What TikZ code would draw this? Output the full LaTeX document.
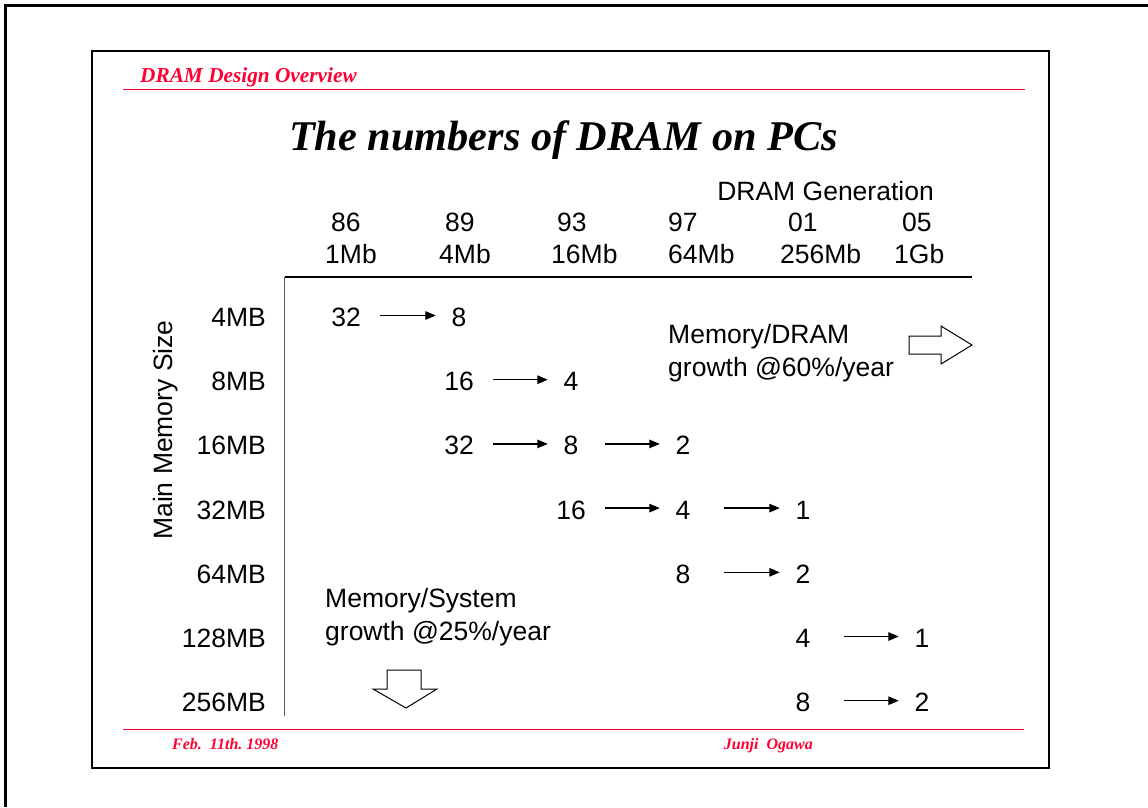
\documentclass[tikz,border=0pt]{standalone}
\usepackage{fontspec}
\setmainfont{Liberation Serif}
\setsansfont{Liberation Sans}
\usetikzlibrary{arrows.meta}
\definecolor{slidered}{RGB}{255,0,51}
\begin{document}
\begin{tikzpicture}[x=1pt,y=-1pt,
  frame/.style={line width=2.5pt,black},
  rule/.style={line width=1.5pt,slidered},
  body/.style={font=\fontsize{26.5}{33}\selectfont\sffamily,inner sep=0pt},
  num/.style={body,anchor=base,minimum width=40pt,text height=22pt,text depth=0pt},
  rowlab/.style={body,anchor=base east},
  hdr/.style={body,anchor=base west},
  numarrow/.style={line width=1.3pt,-{Triangle[length=10.5pt,width=8.5pt]},shorten >=3pt,shorten <=14pt},
  widegap/.style={shorten <=21pt},
  blockarrow/.style={draw,line width=1pt,fill=white,line join=miter},
  redtext/.style={text=slidered,inner sep=0pt,font=\fontsize{#1}{#1}\selectfont\rmfamily\bfseries\itshape}
]
\useasboundingbox (0,0) rectangle (1148,807);
\fill[white] (0,0) rectangle (1148,807);

% page frames
\draw[frame] (5.3,807) -- (5.3,5.5) -- (1148,5.5);
\draw[frame] (92,51.2) rectangle (1049,768);

% header and footer
\node[redtext=21.3,anchor=base west] (header) at (140,82) {DRAM Design Overview};
\draw[rule] (123,89.3) -- (1025,89.3);
\draw[rule] (123,729.3) -- (1024,729.3);
\node[redtext=16,anchor=base west] (date) at (172,749) {Feb.\ \ 11th.\ 1998};
\node[redtext=16,anchor=base east] (author) at (813,749) {Junji\ \ Ogawa};

% title
\node[inner sep=0pt,anchor=base,font=\fontsize{42.3}{48}\selectfont\rmfamily\bfseries\itshape] (title) at (563.5,150) {The numbers of DRAM on PCs};

% column heads
\node[body,anchor=base east] (gen) at (934,200.5) {DRAM Generation};
\node[hdr] (y86) at (331,231.5) {86};
\node[hdr] (y89) at (445,231.5) {89};
\node[hdr] (y93) at (557,231.5) {93};
\node[hdr] (y97) at (668,231.5) {97};
\node[hdr] (y01) at (788,231.5) {01};
\node[hdr] (y05) at (902,231.5) {05};
\node[hdr] (m1) at (325,263.5) {1Mb};
\node[hdr] (m4) at (439,263.5) {4Mb};
\node[hdr] (m16) at (551,263.5) {16Mb};
\node[hdr] (m64) at (668,263.5) {64Mb};
\node[hdr] (m256) at (780,263.5) {256Mb};
\node[hdr] (g1) at (894,263.5) {1Gb};

% axes
\draw[line width=1.2pt] (284.5,277) -- (972,277);
\draw[line width=1.2pt,black!65] (284.5,277) -- (284.5,716);

% row heads
\node[body,rotate=90,anchor=base] (axis) at (172.5,430) {Main Memory Size};
\node[rowlab] (s4) at (266,326.5) {4MB};
\node[rowlab] (s8) at (266,390.7) {8MB};
\node[rowlab] (s16) at (266,454.9) {16MB};
\node[rowlab] (s32) at (266,519.1) {32MB};
\node[rowlab] (s64) at (266,583.3) {64MB};
\node[rowlab] (s128) at (266,647.5) {128MB};
\node[rowlab] (s256) at (266,711.7) {256MB};

% chip counts
\node[num] (a1) at (346,326.5) {32};
\node[num] (a2) at (459,326.5) {8};
\node[num] (b2) at (459,390.7) {16};
\node[num] (b3) at (571,390.7) {4};
\node[num] (c2) at (459,454.9) {32};
\node[num] (c3) at (571,454.9) {8};
\node[num] (c4) at (683,454.9) {2};
\node[num] (d3) at (571,519.1) {16};
\node[num] (d4) at (683,519.1) {4};
\node[num] (d5) at (803,519.1) {1};
\node[num] (e4) at (683,583.3) {8};
\node[num] (e5) at (803,583.3) {2};
\node[num] (f5) at (803,647.5) {4};
\node[num] (f6) at (922,647.5) {1};
\node[num] (g5) at (803,711.7) {8};
\node[num] (g6) at (922,711.7) {2};

\draw[numarrow] (a1.east) -- (a2.west);
\draw[numarrow] (b2.east) -- (b3.west);
\draw[numarrow] (c2.east) -- (c3.west);
\draw[numarrow] (c3.east) -- (c4.west);
\draw[numarrow] (d3.east) -- (d4.west);
\draw[numarrow,widegap] (d4.east) -- (d5.west);
\draw[numarrow,widegap] (e4.east) -- (e5.west);
\draw[numarrow,widegap] (f5.east) -- (f6.west);
\draw[numarrow,widegap] (g5.east) -- (g6.west);

% growth notes (base anchor sits on the last line)
\node[body,anchor=base west,align=left] (dramgrowth) at (668,376.3) {Memory/DRAM\\growth @60\%/year};
\node[body,anchor=base west,align=left] (sysgrowth) at (325,640.3) {Memory/System\\growth @25\%/year};

% block arrows
\draw[blockarrow] (909,336) -- (941,336) -- (941,326) -- (972,345) -- (941,364) -- (941,354) -- (909,354) -- cycle;
\draw[blockarrow] (387,670) -- (421,670) -- (421,689) -- (437,689) -- (406,708) -- (373,689) -- (387,689) -- cycle;
\end{tikzpicture}
\end{document}
